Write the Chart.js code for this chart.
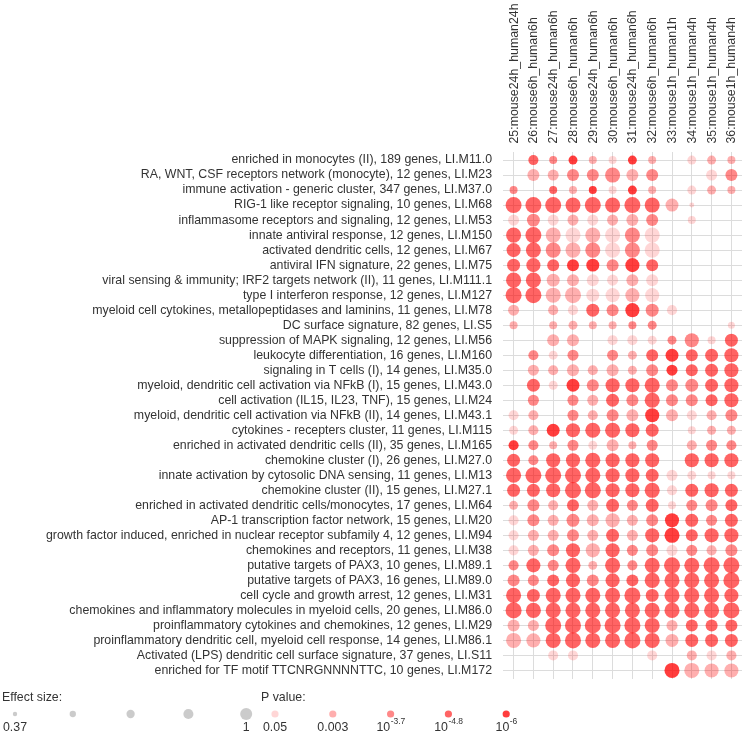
<!DOCTYPE html>
<html>
<head>
<meta charset="utf-8">
<script src="https://cdn.jsdelivr.net/npm/chart.js@4"></script>
<style>
  html, body { margin: 0; padding: 0; background: #fff; }
  #wrap { width: 750px; height: 739px; }
</style>
</head>
<body>
<div id="wrap"><canvas id="chart" width="750" height="739"></canvas></div>
<script>
const _ = null;

// comparisons (columns)
const columns = [
  "25:mouse24h_human24h", "26:mouse6h_human6h", "27:mouse24h_human6h", "28:mouse6h_human6h",
  "29:mouse24h_human6h", "30:mouse6h_human6h", "31:mouse24h_human6h", "32:mouse6h_human6h",
  "33:mouse1h_human1h", "34:mouse1h_human4h", "35:mouse1h_human4h", "36:mouse1h_human4h"
];

// modules (rows, top to bottom)
const modules = [
  "enriched in monocytes (II), 189 genes, LI.M11.0",
  "RA, WNT, CSF receptors network (monocyte), 12 genes, LI.M23",
  "immune activation - generic cluster, 347 genes, LI.M37.0",
  "RIG-1 like receptor signaling, 10 genes, LI.M68",
  "inflammasome receptors and signaling, 12 genes, LI.M53",
  "innate antiviral response, 12 genes, LI.M150",
  "activated dendritic cells, 12 genes, LI.M67",
  "antiviral IFN signature, 22 genes, LI.M75",
  "viral sensing & immunity; IRF2 targets network (II), 11 genes, LI.M111.1",
  "type I interferon response, 12 genes, LI.M127",
  "myeloid cell cytokines, metallopeptidases and laminins, 11 genes, LI.M78",
  "DC surface signature, 82 genes, LI.S5",
  "suppression of MAPK signaling, 12 genes, LI.M56",
  "leukocyte differentiation, 16 genes, LI.M160",
  "signaling in T cells (I), 14 genes, LI.M35.0",
  "myeloid, dendritic cell activation via NFkB (I), 15 genes, LI.M43.0",
  "cell activation (IL15, IL23, TNF), 15 genes, LI.M24",
  "myeloid, dendritic cell activation via NFkB (II), 14 genes, LI.M43.1",
  "cytokines - recepters cluster, 11 genes, LI.M115",
  "enriched in activated dendritic cells (II), 35 genes, LI.M165",
  "chemokine cluster (I), 26 genes, LI.M27.0",
  "innate activation by cytosolic DNA sensing, 11 genes, LI.M13",
  "chemokine cluster (II), 15 genes, LI.M27.1",
  "enriched in activated dendritic cells/monocytes, 17 genes, LI.M64",
  "AP-1 transcription factor network, 15 genes, LI.M20",
  "growth factor induced, enriched in nuclear receptor subfamily 4, 12 genes, LI.M94",
  "chemokines and receptors, 11 genes, LI.M38",
  "putative targets of PAX3, 10 genes, LI.M89.1",
  "putative targets of PAX3, 16 genes, LI.M89.0",
  "cell cycle and growth arrest, 12 genes, LI.M31",
  "chemokines and inflammatory molecules in myeloid cells, 20 genes, LI.M86.0",
  "proinflammatory cytokines and chemokines, 12 genes, LI.M29",
  "proinflammatory dendritic cell, myeloid cell response, 14 genes, LI.M86.1",
  "Activated (LPS) dendritic cell surface signature, 37 genes, LI.S11",
  "enriched for TF motif TTCNRGNNNNTTC, 10 genes, LI.M172"
];

// effect size per module (row) x comparison (column)
const effect = [
  [_, .69, .58, .63, .58, .58, .63, .58, _, .63, .63, .58],
  [_, .79, .74, .79, .79, .95, .79, .79, _, _, .74, .79],
  [.58, _, .58, .58, .58, .58, .63, .58, _, .63, .63, .58],
  [1, 1, 1, .95, 1, .95, 1, .95, .84, .42, _, _],
  [.74, .84, .74, .74, .74, .74, .79, .79, _, .58, _, _],
  [.95, 1, .95, .95, .95, .95, .95, .95, _, _, _, _],
  [.90, .95, .95, .95, .95, .95, .95, .95, _, _, _, _],
  [.84, .90, .79, .79, .84, .79, .90, .79, _, _, _, _],
  [.95, .95, .84, .79, .79, .74, .79, .79, _, _, _, _],
  [1, 1, .95, 1, .84, .90, .90, .90, _, _, _, _],
  [.74, _, .69, .69, .84, .79, .90, .84, .69, _, _, _],
  [.58, _, .58, .63, .58, .58, .58, .63, _, _, _, .53],
  [_, _, .79, .79, _, .69, .69, .63, .63, .90, .58, .84],
  [_, .69, .63, .74, _, .74, .63, .79, .84, .79, .84, .90],
  [_, .74, .69, .79, .69, .79, .63, .79, .74, .79, .84, .90],
  [_, .84, .63, .84, .79, .90, .90, .95, .79, .84, .84, .90],
  [_, .74, _, .74, .74, .84, .79, .95, .79, .79, .79, .90],
  [.69, .69, _, .74, .69, .79, .79, .90, .79, .69, .69, .79],
  [.63, .69, .84, .90, .95, .95, .90, .84, _, .58, .63, .63],
  [.69, .69, .58, .74, .63, .79, .58, .74, _, .69, .74, .69],
  [.84, .69, .90, .90, .95, .90, .90, .90, _, .90, .90, .90],
  [.95, 1, 1, 1, .95, .90, .90, .84, .74, .63, .58, .58],
  [.84, .84, .90, 1, 1, .90, .90, .95, .69, .84, .90, .84],
  [.63, .79, .69, .79, .74, .84, .74, .84, .58, .74, .79, .79],
  [.69, .79, .74, .84, .79, .90, .74, .79, .90, .84, .74, .84],
  [.69, .74, .74, .79, .74, .84, .74, .90, .95, .79, .90, .90],
  [.69, .74, .79, .90, .90, .90, .74, .79, .74, .74, .69, .79],
  [.69, .90, .74, .95, .63, .95, .69, .95, 1, .95, 1, 1],
  [.79, .74, .79, .90, .79, .90, .79, .95, .95, .95, .95, 1],
  [.95, .84, .95, .95, .95, .95, 1, .84, .95, .95, .95, .90],
  [1, .95, .95, .95, .95, .95, .95, .95, .95, .95, .95, 1],
  [.79, .74, 1, 1, 1, 1, 1, .95, .74, .79, .79, .79],
  [.95, .90, .95, 1, .95, .95, 1, .95, .84, .84, .84, .84],
  [_, _, .69, .69, _, _, _, .69, _, .69, .69, .69],
  [_, _, _, _, _, _, _, _, .95, .95, .90, .90]
];

// -log10(P value) per module x comparison
const logP = [
  [_, 4.8, 3.7, 6, 2.5, 1.3, 6, 2.5, _, 1.3, 2.5, 2.5],
  [_, 2.5, 2.5, 3.7, 3.7, 3.7, 2.5, 3.7, _, _, 1.3, 3.7],
  [3.7, _, 4.8, 2.5, 6, 1.3, 6, 2.5, _, 1.3, 2.5, 2.5],
  [4.8, 4.8, 4.8, 4.8, 4.8, 4.8, 4.8, 4.8, 2.5, 1.3, _, _],
  [1.3, 3.7, 1.3, 2.5, 1.3, 2.5, 2.5, 3.7, _, 1.3, _, _],
  [4.8, 4.8, 2.5, 1.3, 2.5, 1.3, 3.7, 1.3, _, _, _, _],
  [4.8, 4.8, 3.7, 2.5, 3.7, 1.3, 3.7, 1.3, _, _, _, _],
  [4.8, 4.8, 4.8, 6, 6, 3.7, 6, 4.8, _, _, _, _],
  [4.8, 4.8, 2.5, 2.5, 1.3, 1.3, 2.5, 1.3, _, _, _, _],
  [4.8, 4.8, 2.5, 2.5, 1.3, 1.3, 2.5, 1.3, _, _, _, _],
  [2.5, _, 2.5, 1.3, 4.8, 3.7, 6, 3.7, 1.3, _, _, _],
  [2.5, _, 2.5, 2.5, 2.5, 2.5, 3.7, 3.7, _, _, _, 1.3],
  [_, _, 2.5, 2.5, _, 1.3, 1.3, 1.3, 3.7, 3.7, 1.3, 4.8],
  [_, 3.7, 1.3, 3.7, _, 3.7, 2.5, 4.8, 6, 4.8, 4.8, 4.8],
  [_, 2.5, 2.5, 2.5, 2.5, 2.5, 2.5, 3.7, 6, 4.8, 4.8, 4.8],
  [_, 4.8, 1.3, 6, 3.7, 4.8, 4.8, 4.8, 3.7, 3.7, 4.8, 4.8],
  [_, 3.7, _, 3.7, 2.5, 4.8, 3.7, 4.8, 3.7, 3.7, 4.8, 4.8],
  [1.3, 2.5, _, 3.7, 2.5, 3.7, 2.5, 6, 2.5, 1.3, 2.5, 3.7],
  [1.3, 2.5, 6, 4.8, 4.8, 4.8, 4.8, 4.8, _, 1.3, 2.5, 2.5],
  [6, 3.7, 2.5, 3.7, 1.3, 2.5, 2.5, 3.7, _, 2.5, 3.7, 3.7],
  [4.8, 3.7, 4.8, 4.8, 4.8, 4.8, 4.8, 4.8, _, 4.8, 4.8, 4.8],
  [4.8, 4.8, 4.8, 4.8, 4.8, 4.8, 4.8, 4.8, 1.3, 1.3, 1.3, 1.3],
  [4.8, 4.8, 4.8, 4.8, 4.8, 4.8, 4.8, 4.8, 1.3, 4.8, 4.8, 4.8],
  [2.5, 3.7, 2.5, 4.8, 2.5, 4.8, 3.7, 4.8, 1.3, 3.7, 3.7, 4.8],
  [1.3, 3.7, 2.5, 3.7, 2.5, 2.5, 2.5, 3.7, 6, 4.8, 3.7, 4.8],
  [1.3, 2.5, 2.5, 3.7, 2.5, 4.8, 2.5, 4.8, 6, 4.8, 4.8, 4.8],
  [1.3, 2.5, 3.7, 4.8, 2.5, 4.8, 3.7, 3.7, 1.3, 3.7, 2.5, 3.7],
  [3.7, 4.8, 3.7, 4.8, 2.5, 4.8, 3.7, 4.8, 4.8, 4.8, 4.8, 4.8],
  [3.7, 3.7, 4.8, 4.8, 3.7, 4.8, 4.8, 4.8, 4.8, 4.8, 4.8, 4.8],
  [4.8, 4.8, 4.8, 4.8, 4.8, 4.8, 4.8, 4.8, 4.8, 4.8, 4.8, 4.8],
  [4.8, 4.8, 4.8, 4.8, 4.8, 4.8, 4.8, 4.8, 4.8, 4.8, 4.8, 4.8],
  [2.5, 2.5, 4.8, 4.8, 4.8, 4.8, 4.8, 4.8, 2.5, 4.8, 4.8, 4.8],
  [2.5, 2.5, 4.8, 4.8, 4.8, 4.8, 4.8, 4.8, 2.5, 4.8, 4.8, 4.8],
  [_, _, 1.3, 1.3, _, _, _, 1.3, _, 2.5, 1.3, 2.5],
  [_, _, _, _, _, _, _, _, 6, 2.5, 2.5, 2.5]
];

// legend keys
const sizeKeys = [0.37, 0.53, 0.69, 0.84, 1];
const sizeKeyLabels = ["0.37", "", "", "", "1"];
const pKeys = [1.3, 2.52, 3.7, 4.8, 6];
const pKeyLabels = [["0.05"], ["0.003"], ["10", "-3.7"], ["10", "-4.8"], ["10", "-6"]];

const FONT = '"Liberation Sans", Arial, Helvetica, sans-serif';
const TEXT = '#333333';
const FS = 12.35;

// effect size -> radius, -log10 p -> opacity of red
const radiusOf = v => 2 + (v - 0.37) / 0.63 * 6;
const alphaOf = lp => 0.16 + (lp - 1.3) * 0.128;
const redOf = lp => 'rgba(255,0,0,' + alphaOf(lp).toFixed(3) + ')';

const points = [];
modules.forEach((m, i) => {
  columns.forEach((c, j) => {
    const v = effect[i][j];
    if (v === null) return;
    points.push({x: j + 1, y: i + 1, r: radiusOf(v), lp: logP[i][j]});
  });
});

// legend below the plot
const keyLegend = {
  id: 'keyLegend',
  afterDraw(chart) {
    const ctx = chart.ctx;
    const sizeX0 = 15, pX0 = 275, step = 57.8;
    const yTitle = 697.5, yKey = 714, yLab = 727.5;
    ctx.save();
    ctx.fillStyle = TEXT;
    ctx.font = FS + 'px ' + FONT;
    ctx.textBaseline = 'middle';
    ctx.textAlign = 'left';
    ctx.fillText('Effect size:', 2, yTitle);
    ctx.fillText('P value:', pX0 - 14, yTitle);

    sizeKeys.forEach((v, i) => {
      const x = sizeX0 + step * i;
      ctx.beginPath();
      ctx.arc(x, yKey, 2.2 + (v - 0.37) / 0.63 * 3.8, 0, Math.PI * 2);
      ctx.fillStyle = 'rgba(130,130,130,0.42)';
      ctx.fill();
      if (sizeKeyLabels[i]) {
        ctx.fillStyle = TEXT;
        ctx.font = FS + 'px ' + FONT;
        ctx.textAlign = 'center';
        ctx.fillText(sizeKeyLabels[i], x, yLab);
      }
    });

    pKeys.forEach((lp, i) => {
      const x = pX0 + step * i;
      ctx.beginPath();
      ctx.arc(x, yKey, 3.6, 0, Math.PI * 2);
      ctx.fillStyle = redOf(lp);
      ctx.fill();
      const lab = pKeyLabels[i];
      ctx.fillStyle = TEXT;
      ctx.textAlign = 'left';
      ctx.font = FS + 'px ' + FONT;
      const wBase = ctx.measureText(lab[0]).width;
      let wSup = 0;
      if (lab[1]) {
        ctx.font = '8.5px ' + FONT;
        wSup = ctx.measureText(lab[1]).width;
      }
      const start = x - (wBase + wSup) / 2;
      ctx.font = FS + 'px ' + FONT;
      ctx.fillText(lab[0], start, yLab);
      if (lab[1]) {
        ctx.font = '8.5px ' + FONT;
        ctx.fillText(lab[1], start + wBase + 0.5, yLab - 5.5);
      }
    });
    ctx.restore();
  }
};

new Chart(document.getElementById('chart').getContext('2d'), {
  type: 'bubble',
  data: {
    datasets: [{
      data: points,
      backgroundColor: ctx => ctx.raw ? redOf(ctx.raw.lp) : 'rgba(0,0,0,0)',
      borderWidth: 0,
      hoverBorderWidth: 0,
      clip: false
    }]
  },
  options: {
    responsive: false,
    animation: false,
    events: [],
    layout: { padding: { left: 0, right: 2, top: 0, bottom: 60 } },
    plugins: { legend: { display: false }, tooltip: { enabled: false } },
    scales: {
      x: {
        type: 'linear',
        position: 'top',
        min: 0.465,
        max: 12.535,
        afterBuildTicks: s => { s.ticks = columns.map((c, j) => ({ value: j + 1 })); },
        afterFit: s => { s.height = 151.5; },
        grid: { color: '#dcdcdc', lineWidth: 1, drawTicks: false },
        border: { display: false },
        ticks: {
          autoSkip: false,
          minRotation: 90,
          maxRotation: 90,
          padding: 8,
          labelOffset: 15.5,
          color: TEXT,
          font: { family: FONT, size: FS },
          callback: v => columns[v - 1]
        }
      },
      y: {
        type: 'linear',
        reverse: true,
        min: 0.43,
        max: 35.57,
        afterBuildTicks: s => { s.ticks = modules.map((m, i) => ({ value: i + 1 })); },
        afterFit: s => { s.width = 503; },
        grid: { color: '#dcdcdc', lineWidth: 1, drawTicks: false },
        border: { display: false },
        ticks: {
          autoSkip: false,
          padding: 11,
          color: TEXT,
          font: { family: FONT, size: FS },
          callback: v => modules[v - 1]
        }
      }
    }
  },
  plugins: [keyLegend]
});
</script>
</body>
</html>
